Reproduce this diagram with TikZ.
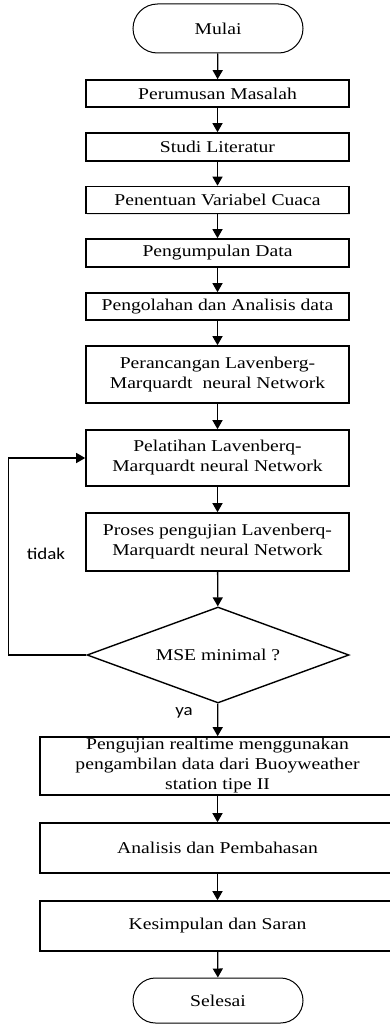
\documentclass[tikz,border=0pt]{standalone}
\usepackage{fontspec}
\setmainfont{Liberation Serif}[FakeStretch=1.19]
\newfontfamily\lblfont{Carlito}[FakeStretch=1.15]
\usetikzlibrary{arrows.meta,shapes.geometric,shapes.misc,shadows}

\tikzset{
	box/.style={draw, line width=1.6pt, fill=white, minimum width=263pt, inner sep=0pt, align=center,
		font=\fontsize{16.5}{20}\selectfont, drop shadow={opacity=0.2, shadow xshift=1.2pt, shadow yshift=-1.2pt}},
	widebox/.style={box, minimum width=355pt},
	term/.style={draw, line width=1pt, rounded rectangle, minimum width=170pt, inner sep=0pt,
		font=\fontsize{16.5}{20}\selectfont},
	decision/.style={draw, line width=1.4pt, diamond, aspect=2.73, minimum width=262pt, minimum height=96pt, inner sep=0pt,
		font=\fontsize{16.5}{20}\selectfont},
	flow/.style={line width=1.3pt, -{Triangle[width=10pt,length=9pt]}},
	lbl/.style={font=\lblfont\fontsize{16.5}{20}\selectfont}
}

\begin{document}
\begin{tikzpicture}[x=1pt, y=-1pt]
			%%%%% START %%%%%
			\useasboundingbox (0, 0) rectangle (389, 1025);
			
			\node[term, minimum height=49pt] (mulai) at (218, 28.5) {Mulai};
			\node[box, minimum height=27pt] (rumus) at (217.5, 93.5) {Perumusan Masalah};
			\node[box, minimum height=28pt] (studi) at (217.5, 147) {Studi Literatur};
			\node[box, minimum height=27pt] (variabel) at (217.5, 200) {Penentuan Variabel Cuaca};
			\node[box, minimum height=28pt] (kumpul) at (217.5, 253) {Pengumpulan Data};
			\node[box, minimum height=27pt] (olah) at (217.5, 306.5) {Pengolahan dan Analisis data};
			\node[box, minimum height=57pt] (rancang) at (217.5, 374.5) {Perancangan Lavenberg-\\Marquardt\ \ neural Network};
			\node[box, minimum height=56pt] (latih) at (217.5, 458) {Pelatihan Lavenberq-\\Marquardt neural Network};
			\node[box, minimum height=58pt] (uji) at (217.5, 542) {Proses pengujian Lavenberq-\\Marquardt neural Network};
			\node[decision] (mse) at (218, 655) {MSE minimal ?};
			
			\node[widebox, minimum height=58pt] (realtime) at (217.5, 766) {Pengujian realtime menggunakan\\pengambilan data dari Buoyweather\\station tipe II};
			\node[widebox, minimum height=50pt] (bahas) at (217.5, 848) {Analisis dan Pembahasan};
			\node[widebox, minimum height=50pt] (simpul) at (217.5, 926) {Kesimpulan dan Saran};
			\node[term, minimum height=45pt] (selesai) at (218, 1000.5) {Selesai};
			
			\draw[flow] (mulai) -- (rumus);
			\draw[flow] (rumus) -- (studi);
			\draw[flow] (studi) -- (variabel);
			\draw[flow] (variabel) -- (kumpul);
			\draw[flow] (kumpul) -- (olah);
			\draw[flow] (olah) -- (rancang);
			\draw[flow] (rancang) -- (latih);
			\draw[flow] (latih) -- (uji);
			\draw[flow] (uji) -- (mse);
			\draw[flow] (mse) -- (realtime);
			\draw[flow] (realtime) -- (bahas);
			\draw[flow] (bahas) -- (simpul);
			\draw[flow] (simpul) -- (selesai);
			
			\coordinate (kiri) at (8.5, 0);
			\draw[flow] (mse.west) -- (mse.west -| kiri) -- (latih.west -| kiri) -- (latih.west);
			
			\node[lbl] (tidak) at (46, 554) {tidak};
			\node[lbl] (ya) at (184, 713) {ya};
			%%%%% END %%%%%
\end{tikzpicture}
\end{document}
